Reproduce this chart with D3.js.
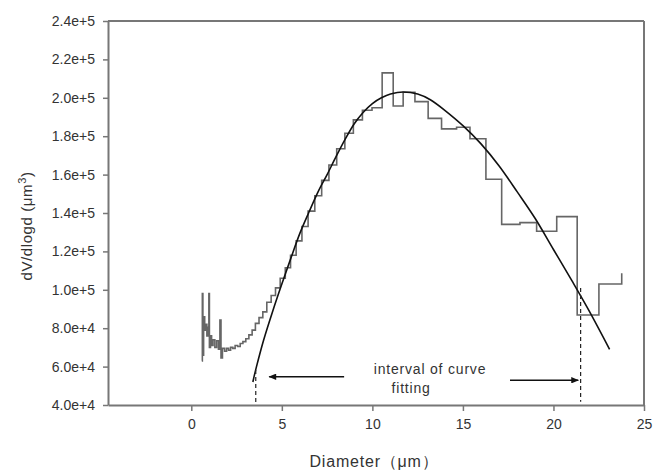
<!DOCTYPE html>
<html>
<head>
<meta charset="utf-8">
<script src="https://cdn.jsdelivr.net/npm/d3@7"></script>
<style>
  body { margin: 0; background: #fff; }
  svg { font-family: "Liberation Sans", Arial, sans-serif; }
  .axis text { font-size: 14px; fill: #333; }
  .axis path, .axis line { stroke: #777; }
</style>
</head>
<body>
<svg width="654" height="472"></svg>
<script>
// histogram steps (left edge of bin, dV/dlogd), last point only closes the step
var stepX = [0.58, 0.61, 0.64, 0.68, 0.74, 0.80, 0.86, 0.92, 0.97, 1.00, 1.06, 1.12, 1.20, 1.30, 1.40, 1.50, 1.58, 1.64, 1.72,
    1.84, 1.95, 2.06, 2.17, 2.29, 2.42, 2.56, 2.70, 2.85, 3.01, 3.18, 3.36, 3.54, 3.74, 3.95, 4.17, 4.41, 4.65, 4.91,
    5.19, 5.48, 5.79, 6.11, 6.45, 6.82, 7.20, 7.60, 8.03, 8.48, 8.95, 9.45, 9.98, 10.54, 11.15, 11.70, 12.35, 13.08,
    13.82, 14.65, 15.39, 16.27, 17.14, 18.15, 19.07, 20.18, 21.31, 22.51, 23.77];
var stepY = [63000, 98000, 66000, 86000, 79000, 82000, 76000, 80500, 98000, 70000, 76000, 71000, 74000, 70000, 73500, 69000, 84300, 64500, 69500,
    68000, 69500, 68500, 70000, 69500, 71000, 70500, 72000, 73000, 74500, 76500, 79000, 82500, 85500, 88500, 93500, 97000, 101000, 106000,
    111500, 118000, 125500, 133000, 141000, 149000, 157000, 165000, 173500, 181500, 188500, 193500, 194800, 213000, 195700, 202900, 198000, 189300,
    183800, 184700, 178700, 157600, 134100, 135000, 130500, 138100, 86900, 103000, 108600];

// fitted curve
var fitX = [3.40, 3.60, 4.00, 4.50, 5.00, 5.50, 6.00, 6.50, 7.00, 7.50, 8.00, 8.50, 9.00, 9.50, 10.00, 10.50, 11.00, 11.70,
    12.50, 13.20, 14.00, 15.00, 16.00, 17.00, 18.00, 19.00, 20.00, 21.00, 22.00, 23.10];
var fitY = [52000, 60000, 74000, 89000, 103000, 116500, 129500, 140500, 151000, 160000, 169500, 178500, 186500, 192500, 197000, 200000, 202000, 203000,
    202000, 199000, 193500, 185500, 176000, 164500, 151000, 137000, 121000, 105000, 88500, 69000];

var xTicks = [0, 5, 10, 15, 20, 25];
var yTicks = [40000, 60000, 80000, 100000, 120000, 140000, 160000, 180000, 200000, 220000, 240000];

// interval limits and arrows
var limitX = [3.56, 21.5];
var limitTop = [58200, 101000];
var limitBottom = [40600, 41700];
var arrowFrom = [[8.44, 54700], [17.6, 52900]];
var arrowTo = [[4.30, 54700], [21.37, 52900]];

var svg = d3.select('svg');

var x = d3.scaleLinear().domain([-4.6, 25]).range([108, 644]);
var y = d3.scaleLinear().domain([40000, 240000]).range([405, 21]);

svg.append('defs').append('marker')
    .attr('id', 'arrow')
    .attr('viewBox', '0 0 12 10')
    .attr('refX', 11).attr('refY', 5)
    .attr('markerWidth', 6).attr('markerHeight', 4)
    .attr('markerUnits', 'strokeWidth')
    .attr('orient', 'auto')
    .append('path')
    .attr('d', 'M0,0L12,5L0,10z')
    .attr('fill', '#111');

// frame top / right
svg.append('line').attr('x1', x(-4.6)).attr('x2', x(25)).attr('y1', y(240000)).attr('y2', y(240000))
    .attr('stroke', '#777').attr('stroke-width', 2);
svg.append('line').attr('x1', x(25)).attr('x2', x(25)).attr('y1', y(240000)).attr('y2', y(40000))
    .attr('stroke', '#777').attr('stroke-width', 2);

var xAxis = svg.append('g').attr('class', 'x axis')
    .attr('transform', 'translate(0,' + y(40000) + ')')
    .call(d3.axisBottom(x).tickValues(xTicks).tickSize(6).tickPadding(8).tickSizeOuter(0));
xAxis.select('.domain').attr('stroke-width', 2);
xAxis.selectAll('.tick line').attr('stroke-width', 1.5);

var yAxis = svg.append('g').attr('class', 'y axis')
    .attr('transform', 'translate(' + x(-4.6) + ',0)')
    .call(d3.axisLeft(y).tickValues(yTicks).tickFormat(d3.format('.1e')).tickSize(5).tickPadding(8).tickSizeOuter(0));
yAxis.select('.domain').attr('stroke-width', 2);
yAxis.selectAll('.tick line').attr('stroke-width', 1.5);

// histogram
var steps = stepX.map(function(d, i) { return [d, stepY[i]]; });
svg.append('path')
    .attr('d', d3.line().x(d => x(d[0])).y(d => y(d[1])).curve(d3.curveStepAfter)(steps))
    .attr('fill', 'none')
    .attr('stroke', '#666')
    .attr('stroke-width', 1.6);

// fit curve
var fit = fitX.map(function(d, i) { return [d, fitY[i]]; });
svg.append('path')
    .attr('d', d3.line().x(d => x(d[0])).y(d => y(d[1])).curve(d3.curveCardinal)(fit))
    .attr('fill', 'none')
    .attr('stroke', '#111')
    .attr('stroke-width', 1.6);

// dashed interval limits
limitX.forEach(function(d, i) {
    svg.append('line')
        .attr('x1', x(d)).attr('x2', x(d))
        .attr('y1', y(limitTop[i])).attr('y2', y(limitBottom[i]))
        .attr('stroke', '#222').attr('stroke-width', 1.2)
        .attr('stroke-dasharray', '4,3');
});

arrowFrom.forEach(function(d, i) {
    svg.append('line')
        .attr('x1', x(d[0])).attr('y1', y(d[1]))
        .attr('x2', x(arrowTo[i][0])).attr('y2', y(arrowTo[i][1]))
        .attr('stroke', '#111').attr('stroke-width', 1.6)
        .attr('marker-end', 'url(#arrow)');
});

svg.append('text')
    .text('interval of curve')
    .attr('x', x(10.08)).attr('y', y(56200))
    .style('font-size', '14px').style('letter-spacing', '0.8px').attr('fill', '#333');
svg.append('text')
    .text('fitting')
    .attr('x', x(11.06)).attr('y', y(46500))
    .style('font-size', '14px').style('letter-spacing', '0.8px').attr('fill', '#333');

// axis titles
svg.append('text')
    .text('Diameter（μm）')
    .attr('text-anchor', 'middle')
    .attr('transform', 'translate(374,467)')
    .style('font-size', '16px').style('letter-spacing', '0.8px').attr('fill', '#333');

var yTitle = svg.append('text')
    .attr('text-anchor', 'middle')
    .attr('transform', 'translate(32,226) rotate(-90)')
    .style('font-size', '15px').style('letter-spacing', '0.6px').attr('fill', '#333');
yTitle.append('tspan').text('dV/dlogd (μm');
yTitle.append('tspan').text('3').attr('dy', -6).style('font-size', '11px');
yTitle.append('tspan').text(')').attr('dy', 6);
</script>
</body>
</html>
